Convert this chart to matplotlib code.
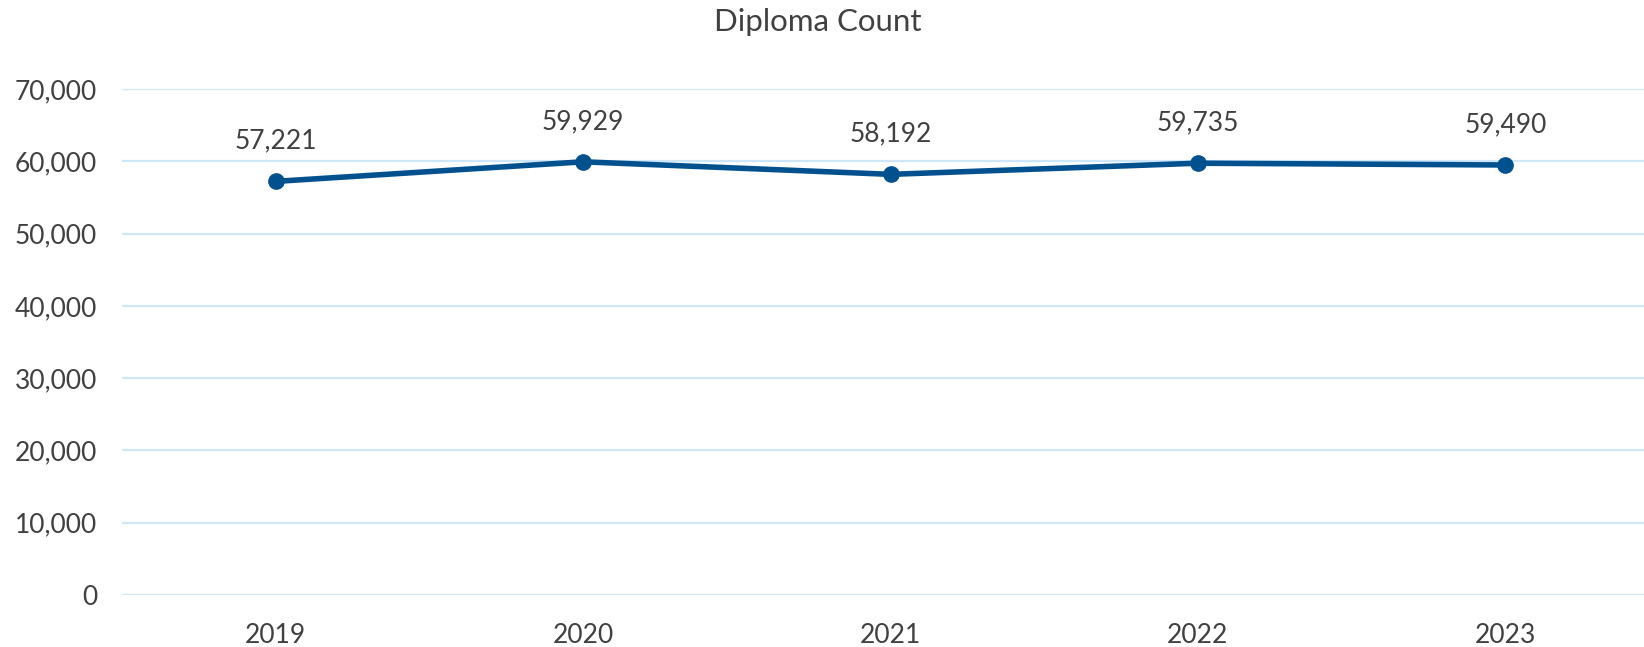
import matplotlib.pyplot as plt

years = ["2019", "2020", "2021", "2022", "2023"]
counts = [57221, 59929, 58192, 59735, 59490]
yticks = [0, 10000, 20000, 30000, 40000, 50000, 60000, 70000]

plt.rcParams['font.family'] = ['Lato', 'DejaVu Sans']
text_col = '#404040'

fig = plt.figure(figsize=(16.44, 6.47), dpi=100)
W, H = 1644, 647
ax = fig.add_axes([122 / W, 1 - 595 / H, (1659 - 122) / W, (595 - 89) / H])

x = range(len(years))
ax.plot(x, counts, color='#02518F', lw=4, marker='o', ms=11, zorder=3)
for i, v in zip(x, counts):
    ax.annotate(f"{v:,}", (i, v), xytext=(0, 20), textcoords='offset points',
                ha='center', va='bottom', fontsize=19, color=text_col)

ax.set_xlim(-0.5, len(years) - 0.5)
ax.set_ylim(0, 70000)
ax.set_xticks(list(x))
ax.set_xticklabels(years)
ax.set_yticks(yticks)
ax.set_yticklabels([f"{t:,}" for t in yticks])
ax.tick_params(length=0, labelsize=19, labelcolor=text_col)
ax.tick_params(axis='x', pad=20)
ax.tick_params(axis='y', pad=18)
ax.grid(axis='y', color='#CDE6FA', lw=1.6)
ax.set_axisbelow(True)
for s in ax.spines.values():
    s.set_visible(False)

fig.text(818 / W, 1 - 22 / H, "Diploma Count", ha='center', va='center',
         fontsize=22.5, color=text_col)

fig.savefig('out.png', dpi=100)
